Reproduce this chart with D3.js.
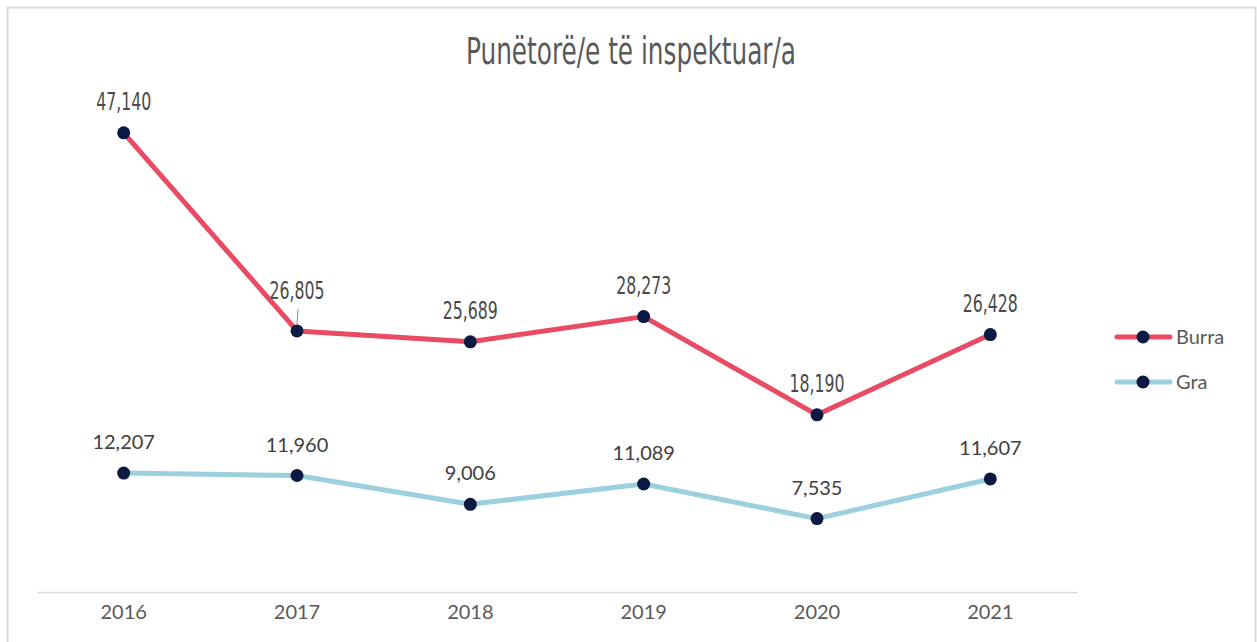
<!DOCTYPE html>
<html>
<head>
<meta charset="utf-8">
<script src="https://cdn.jsdelivr.net/npm/d3@7"></script>
<style>
  html, body { margin: 0; padding: 0; background: #fff; }
  svg { display: block; }
</style>
</head>
<body>
<svg id="chart"></svg>
<script>
const years = ["2016", "2017", "2018", "2019", "2020", "2021"];
const burra = [47140, 26805, 25689, 28273, 18190, 26428];
const gra = [12207, 11960, 9006, 11089, 7535, 11607];
const seriesNames = ["Burra", "Gra"];
const title = "Punëtorë/e të inspektuar/a";

const width = 1257;
const height = 642;
const margin = { top: 105, right: 180, bottom: 50, left: 37 };
const narrowFont = "'Liberation Sans Narrow', 'DejaVu Sans Condensed', sans-serif";
const bodyFont = "Lato, 'Open Sans', sans-serif";

const svg = d3.select("#chart")
  .attr("width", width)
  .attr("height", height)
  .attr("viewBox", [0, 0, width, height]);

// chart frame
svg.append("rect")
  .attr("x", 7.5).attr("y", 7.5)
  .attr("width", 1248).attr("height", 650)
  .attr("fill", "#fff")
  .attr("stroke", "#d9d9d9")
  .attr("stroke-width", 2);

const x = d3.scaleBand()
  .domain(years)
  .range([margin.left, 1077]);

const y = d3.scaleLinear()
  .domain([0, 50000])
  .range([592, margin.top]);

const colors = { Burra: "#e84b63", Gra: "#9dd0de" };
const markerColor = "#0b1a42";

// squeeze a text horizontally, Agency-FB style
function squeeze(sel, k) {
  sel.each(function() {
    const w = this.getComputedTextLength();
    d3.select(this)
      .attr("textLength", w * k)
      .attr("lengthAdjust", "spacingAndGlyphs");
  });
}

// title
svg.append("text")
  .attr("x", 631)
  .attr("y", 64)
  .attr("text-anchor", "middle")
  .attr("fill", "#595959")
  .style("font-family", narrowFont)
  .style("font-size", "37px")
  .attr("textLength", 330)
  .attr("lengthAdjust", "spacingAndGlyphs")
  .text(title);

// x axis
const xAxis = svg.append("g")
  .attr("transform", `translate(0,592)`)
  .call(d3.axisBottom(x).tickSize(0).tickPadding(13));
xAxis.select(".domain").attr("stroke", "#d9d9d9").attr("stroke-width", 1.5);
xAxis.selectAll("text")
  .attr("fill", "#595959")
  .style("font-family", bodyFont)
  .style("font-size", "20px");

const cx = d => x(d) + x.bandwidth() / 2;

const line = d3.line()
  .x((d, i) => cx(years[i]))
  .y(d => y(d));

const data = { Burra: burra, Gra: gra };

seriesNames.forEach(name => {
  svg.append("path")
    .datum(data[name])
    .attr("fill", "none")
    .attr("stroke", colors[name])
    .attr("stroke-width", 5)
    .attr("stroke-linejoin", "round")
    .attr("d", line);
});

seriesNames.forEach(name => {
  const values = data[name];
  const g = svg.append("g");
  g.selectAll("circle")
    .data(values)
    .join("circle")
    .attr("cx", (d, i) => cx(years[i]))
    .attr("cy", d => y(d))
    .attr("r", 6.5)
    .attr("fill", markerColor);

  // labels
  const labels = g.selectAll("text")
    .data(values)
    .join("text")
    .attr("x", (d, i) => cx(years[i]))
    .attr("y", (d, i) => y(d) - (name === "Burra" ? (i === 1 ? 32 : 23) : 24))
    .attr("text-anchor", "middle")
    .attr("fill", name === "Burra" ? "#4a4a4a" : "#404040")
    .style("font-family", name === "Burra" ? narrowFont : bodyFont)
    .style("font-size", name === "Burra" ? "25px" : "20px")
    .text(d => d3.format(",")(d));
  if (name === "Burra") squeeze(labels, 0.7);
});

// leader line for the 2017 Burra label
svg.append("line")
  .attr("x1", cx("2017") + 1).attr("y1", y(burra[1]) - 22)
  .attr("x2", cx("2017")).attr("y2", y(burra[1]) - 6)
  .attr("stroke", "#8c8c8c")
  .attr("stroke-width", 1);

// legend
const legend = svg.append("g");
seriesNames.forEach((name, i) => {
  const ly = 337 + i * 45;
  legend.append("line")
    .attr("x1", 1117).attr("x2", 1170)
    .attr("y1", ly).attr("y2", ly)
    .attr("stroke", colors[name])
    .attr("stroke-width", 5)
    .attr("stroke-linecap", "round");
  legend.append("circle")
    .attr("cx", 1143).attr("cy", ly)
    .attr("r", 6.5)
    .attr("fill", markerColor);
  legend.append("text")
    .attr("x", 1176).attr("y", ly + 7)
    .attr("fill", "#595959")
    .style("font-family", bodyFont)
    .style("font-size", "20px")
    .text(name);
});
</script>
</body>
</html>
